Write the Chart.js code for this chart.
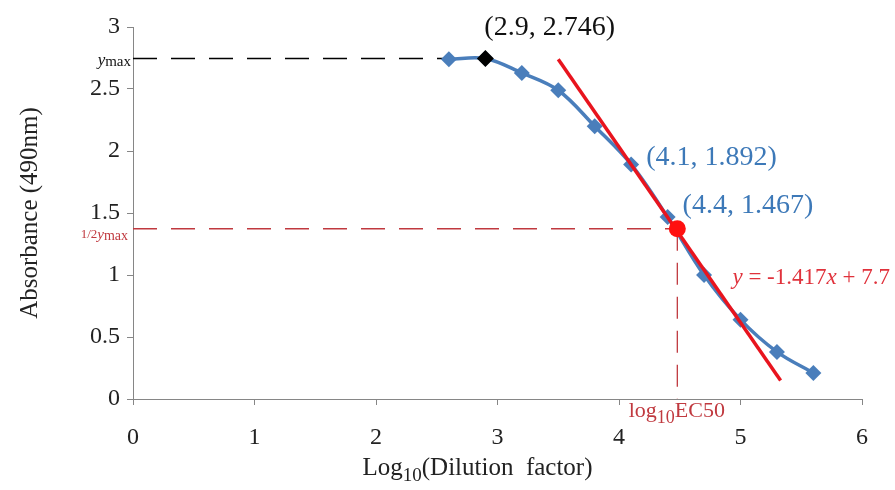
<!DOCTYPE html>
<html>
<head>
<meta charset="utf-8">
<script src="https://cdn.jsdelivr.net/npm/chart.js@4.4.1/dist/chart.umd.min.js"></script>
<style>
  html, body { margin: 0; padding: 0; background: #fff; }
</style>
</head>
<body>
<canvas id="ec50Chart" width="895" height="490"></canvas>
<script>
"use strict";

// log10 of dilution factor and measured absorbance
var dilutionLog = [2.6, 2.9, 3.2, 3.5, 3.8, 4.1, 4.4, 4.7, 5.0, 5.3, 5.6];
var absorbance = [2.74, 2.746, 2.63, 2.49, 2.2, 1.892, 1.467, 1.0, 0.64, 0.38, 0.21];

// linear fit through the steep part
var trendX = [3.5, 5.33];
var trendY = [2.74, 0.15];

var yMax = 2.746;
var halfYMax = 1.373;
var ec50Log = 4.48;
var yMaxLineEnd = 2.55;

var xTicks = [0, 1, 2, 3, 4, 5, 6];
var yTicks = [0, 0.5, 1, 1.5, 2, 2.5, 3];
var yTickLabels = ['0', '0.5', '1', '1.5', '2', '2.5', '3'];

var COLORS = {
  series: '#4A7EBB',
  label: '#3D79B8',
  trend: '#E8141E',
  guide: '#C0393F',
  axis: '#868686',
  text: '#222222'
};
var SERIF = "'Liberation Serif', 'Times New Roman', serif";

var toPoints = function (xs, ys) {
  var pts = [];
  for (let i = 0; i < xs.length; i++) {
    pts.push({ x: xs[i], y: ys[i] });
  }
  return pts;
};

// draws a row of text pieces (for subscripts / italics), left to right
var drawParts = function (ctx, x, y, parts, align) {
  var total = 0;
  parts.forEach(function (p) {
    ctx.font = p.font;
    total += ctx.measureText(p.t).width;
  });
  if (align === 'right') x -= total;
  if (align === 'center') x -= total / 2;
  ctx.textAlign = 'left';
  ctx.textBaseline = 'middle';
  parts.forEach(function (p) {
    ctx.font = p.font;
    ctx.fillStyle = p.color;
    ctx.fillText(p.t, x, y + (p.dy || 0));
    x += ctx.measureText(p.t).width;
  });
};

var annotations = {
  id: 'annotations',
  afterDatasetsDraw: function (chart) {
    var ctx = chart.ctx;
    var xs = chart.scales.x, ys = chart.scales.y;
    var area = chart.chartArea;
    ctx.save();

    // point labels
    drawParts(ctx, xs.getPixelForValue(2.9) - 1, ys.getPixelForValue(yMax) - 31,
      [{ t: '(' + dilutionLog[1] + ', ' + absorbance[1] + ')', font: '28px ' + SERIF, color: '#111' }]);
    drawParts(ctx, xs.getPixelForValue(4.1) + 15, ys.getPixelForValue(1.892) - 7,
      [{ t: '(' + dilutionLog[5] + ', ' + absorbance[5] + ')', font: '28px ' + SERIF, color: COLORS.label }]);
    drawParts(ctx, xs.getPixelForValue(4.4) + 15, ys.getPixelForValue(1.467) - 11,
      [{ t: '(' + dilutionLog[6] + ', ' + absorbance[6] + ')', font: '28px ' + SERIF, color: COLORS.label }]);

    // fit equation
    var eqColor = '#E0323C';
    drawParts(ctx, xs.getPixelForValue(4.95) - 2, ys.getPixelForValue(1.0) + 3, [
      { t: 'y', font: 'italic 23px ' + SERIF, color: eqColor },
      { t: ' = -1.417', font: '23px ' + SERIF, color: eqColor },
      { t: 'x', font: 'italic 23px ' + SERIF, color: eqColor },
      { t: ' + 7.7', font: '23px ' + SERIF, color: eqColor }
    ]);

    // ymax and 1/2 ymax markers on the y axis
    drawParts(ctx, area.left - 2, ys.getPixelForValue(yMax) + 2, [
      { t: 'y', font: 'italic 17px ' + SERIF, color: '#111' },
      { t: 'max', font: '15px ' + SERIF, color: '#111', dy: 2 }
    ], 'right');
    drawParts(ctx, area.left - 5, ys.getPixelForValue(halfYMax) + 6, [
      { t: '1/2', font: '13px ' + SERIF, color: COLORS.guide },
      { t: 'y', font: 'italic 15px ' + SERIF, color: COLORS.guide },
      { t: 'max', font: '14px ' + SERIF, color: COLORS.guide, dy: 2 }
    ], 'right');

    // log10 EC50 under the axis
    drawParts(ctx, xs.getPixelForValue(ec50Log - 0.4), area.bottom + 12, [
      { t: 'log', font: '22px ' + SERIF, color: COLORS.guide },
      { t: '10', font: '18px ' + SERIF, color: COLORS.guide, dy: 7 },
      { t: 'EC50', font: '22px ' + SERIF, color: COLORS.guide }
    ]);

    // x axis title
    drawParts(ctx, (area.left + area.right) / 2 - 20, 468, [
      { t: 'Log', font: '25px ' + SERIF, color: COLORS.text },
      { t: '10', font: '19px ' + SERIF, color: COLORS.text, dy: 8 },
      { t: '(Dilution  factor)', font: '25px ' + SERIF, color: COLORS.text }
    ], 'center');

    ctx.restore();
  }
};

var load_ec50_chart = function () {
  var el = document.getElementById('ec50Chart').getContext('2d');
  var tickFont = { family: SERIF, size: 24 };

  var config = {
    type: 'scatter',
    data: {
      datasets: [
        {
          label: 'ymax guide',
          data: toPoints([0, yMaxLineEnd], [yMax, yMax]),
          showLine: true,
          borderColor: '#000',
          borderWidth: 1.3,
          borderDash: [24, 14],
          pointRadius: 0,
          order: 6
        },
        {
          label: 'half ymax guide',
          data: toPoints([0, ec50Log], [halfYMax, halfYMax]),
          showLine: true,
          borderColor: COLORS.guide,
          borderWidth: 1.3,
          borderDash: [24, 14],
          pointRadius: 0,
          order: 6
        },
        {
          label: 'EC50 guide',
          data: toPoints([ec50Log, ec50Log], [halfYMax, 0]),
          showLine: true,
          borderColor: COLORS.guide,
          borderWidth: 1.3,
          borderDash: [22, 12],
          pointRadius: 0,
          order: 6
        },
        {
          label: 'Absorbance',
          data: toPoints(dilutionLog, absorbance),
          showLine: true,
          borderColor: COLORS.series,
          backgroundColor: COLORS.series,
          borderWidth: 3.5,
          tension: 0.35,
          pointStyle: 'rectRot',
          pointRadius: 8,
          pointBorderWidth: 0,
          pointBackgroundColor: COLORS.series,
          order: 5
        },
        {
          label: 'Linear fit',
          data: toPoints(trendX, trendY),
          showLine: true,
          borderColor: COLORS.trend,
          borderWidth: 3.5,
          pointRadius: 0,
          order: 4
        },
        {
          label: 'ymax',
          data: toPoints([dilutionLog[1]], [yMax]),
          pointStyle: 'rectRot',
          pointRadius: 8.5,
          pointBorderWidth: 0,
          pointBackgroundColor: '#000',
          order: 1
        },
        {
          label: 'EC50',
          data: toPoints([ec50Log], [halfYMax]),
          pointStyle: 'circle',
          pointRadius: 8.5,
          pointBorderWidth: 0,
          pointBackgroundColor: '#FF1010',
          order: 1
        }
      ]
    },
    options: {
      responsive: false,
      animation: false,
      layout: { padding: { top: 27, right: 33, left: 0, bottom: 0 } },
      plugins: {
        legend: { display: false },
        tooltip: { enabled: false }
      },
      scales: {
        x: {
          type: 'linear',
          min: 0,
          max: 6,
          afterBuildTicks: function (scale) {
            scale.ticks = xTicks.map(function (v) { return { value: v }; });
          },
          afterFit: function (scale) { scale.height = 91; },
          ticks: { font: tickFont, color: COLORS.text, padding: 18, maxRotation: 0 },
          grid: { display: true, drawOnChartArea: false, drawTicks: true, tickLength: 6, color: COLORS.axis },
          border: { color: COLORS.axis, width: 1 }
        },
        y: {
          min: 0,
          max: 3,
          afterBuildTicks: function (scale) {
            scale.ticks = yTicks.map(function (v) { return { value: v }; });
          },
          afterFit: function (scale) { scale.width = 133; },
          ticks: {
            font: tickFont,
            color: COLORS.text,
            padding: 7,
            callback: function (value) {
              return yTickLabels[yTicks.indexOf(value)];
            }
          },
          grid: { display: true, drawOnChartArea: false, drawTicks: true, tickLength: 6, color: COLORS.axis },
          border: { color: COLORS.axis, width: 1 },
          title: {
            display: true,
            text: 'Absorbance (490nm)',
            font: { family: SERIF, size: 25 },
            color: COLORS.text,
            padding: { top: 15, bottom: 0 }
          }
        }
      }
    },
    plugins: [annotations]
  };
  return new Chart(el, config);
};

load_ec50_chart();
</script>
</body>
</html>
